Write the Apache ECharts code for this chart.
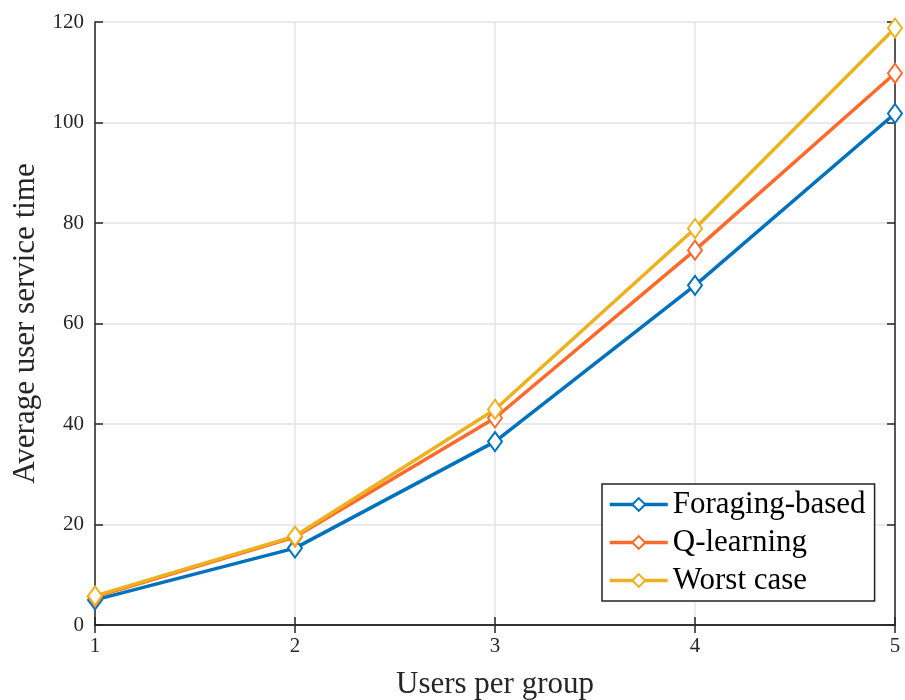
<!DOCTYPE html>
<html><head><meta charset="utf-8">
<script src="https://cdn.jsdelivr.net/npm/echarts@6/dist/echarts.min.js"></script>
<style>html,body{margin:0;padding:0;background:#fff}#c{width:905px;height:700px}</style>
</head><body><div id="c"></div>
<script>
const categories = [1, 2, 3, 4, 5];
const foraging = [5.0, 15.3, 36.5, 67.6, 101.8];
const qlearning = [5.6, 17.5, 41.2, 74.6, 109.8];
const worst = [5.8, 17.7, 42.9, 78.9, 118.8];
const seriesNames = ['Foraging-based', 'Q-learning', 'Worst case'];
const colors = ['#0072BD', '#FF6929', '#EDB120'];
const yTicks = [0, 20, 40, 60, 80, 100, 120];

const font = 'Liberation Serif';
const chart = echarts.init(document.getElementById('c'));
const mk = (name, data, color) => ({
  name, type: 'line', data: categories.map((c, i) => [c, data[i]]),
  symbol: 'emptyDiamond', symbolSize: [14, 19],
  lineStyle: { width: 3.5, color }, itemStyle: { color, borderColor: color, borderWidth: 3 },
  z: 3
});
chart.setOption({
  backgroundColor: '#fff',
  animation: false,
  grid: { left: 95, right: 10, top: 22, bottom: 75, outerBoundsMode: 'none', containLabel: false },
  legend: {
    data: seriesNames, orient: 'vertical', left: 602, top: 484,
    itemWidth: 58, itemHeight: 16, itemGap: 7,
    padding: [5, 9, 5, 6],
    lineStyle: { width: 3.5 },
    itemStyle: { borderWidth: 2.5 },
    borderColor: '#222', borderWidth: 1.5, backgroundColor: '#fff',
    textStyle: { fontFamily: font, fontSize: 31, color: '#000' }
  },
  xAxis: [{
    type: 'value', min: 1, max: 5, interval: 1,
    name: 'Users per group', nameLocation: 'middle', nameGap: 44,
    nameTextStyle: { fontFamily: font, fontSize: 31, color: '#262626' },
    axisLine: { show: true, onZero: false, lineStyle: { color: '#262626', width: 1.5 } },
    axisTick: { show: true, inside: true, length: 8, lineStyle: { color: '#262626', width: 1.5 } },
    axisLabel: { fontFamily: font, fontSize: 21, color: '#262626', margin: 11 },
    splitLine: { show: true, lineStyle: { color: '#e3e3e3', width: 1.5 } }
  }, {
    type: 'value', position: 'top', min: 1, max: 5, interval: 1,
    axisLine: { show: true, lineStyle: { color: '#262626', width: 1.5 } },
    axisTick: { show: true, inside: true, length: 8, lineStyle: { color: '#262626', width: 1.5 } },
    axisLabel: { show: false }, splitLine: { show: false }
  }],
  yAxis: [{
    type: 'value', min: 0, max: 120, interval: 20,
    name: 'Average user service time', nameLocation: 'middle', nameGap: 48,
    nameTextStyle: { fontFamily: font, fontSize: 31, color: '#262626' },
    axisLine: { show: true, lineStyle: { color: '#262626', width: 1.5 } },
    axisTick: { show: true, inside: true, length: 8, lineStyle: { color: '#262626', width: 1.5 } },
    axisLabel: { fontFamily: font, fontSize: 21, color: '#262626', margin: 11 },
    splitLine: { show: true, lineStyle: { color: '#e3e3e3', width: 1.5 } }
  }, {
    type: 'value', position: 'right', min: 0, max: 120, interval: 20,
    axisLine: { show: true, lineStyle: { color: '#262626', width: 1.5 } },
    axisTick: { show: true, inside: true, length: 8, lineStyle: { color: '#262626', width: 1.5 } },
    axisLabel: { show: false }, splitLine: { show: false }
  }],
  series: [
    mk(seriesNames[0], foraging, colors[0]),
    mk(seriesNames[1], qlearning, colors[1]),
    mk(seriesNames[2], worst, colors[2])
  ]
});
</script></body></html>
